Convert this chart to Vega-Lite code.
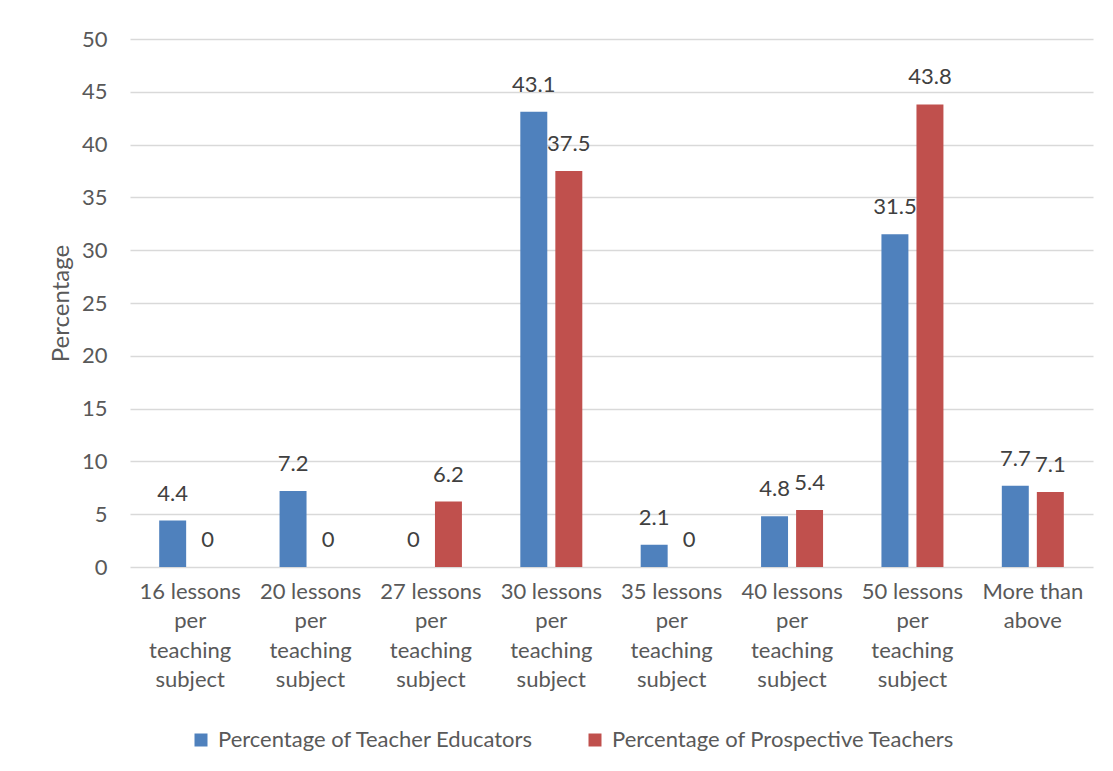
{
  "$schema": "https://vega.github.io/schema/vega-lite/v6.json",
  "width": 963,
  "height": 528,
  "autosize": {"type": "none"},
  "padding": {"left": 130, "top": 39, "right": 20, "bottom": 204},
  "background": "white",
  "config": {"view": {"stroke": null}, "font": "Lato"},
  "data": {
    "values": [
      {"category": "16 lessons|per|teaching|subject", "series": "Percentage of Teacher Educators", "value": 4.4},
      {"category": "16 lessons|per|teaching|subject", "series": "Percentage of Prospective Teachers", "value": 0},
      {"category": "20 lessons|per|teaching|subject", "series": "Percentage of Teacher Educators", "value": 7.2},
      {"category": "20 lessons|per|teaching|subject", "series": "Percentage of Prospective Teachers", "value": 0},
      {"category": "27 lessons|per|teaching|subject", "series": "Percentage of Teacher Educators", "value": 0},
      {"category": "27 lessons|per|teaching|subject", "series": "Percentage of Prospective Teachers", "value": 6.2},
      {"category": "30 lessons|per|teaching|subject", "series": "Percentage of Teacher Educators", "value": 43.1},
      {"category": "30 lessons|per|teaching|subject", "series": "Percentage of Prospective Teachers", "value": 37.5},
      {"category": "35 lessons|per|teaching|subject", "series": "Percentage of Teacher Educators", "value": 2.1},
      {"category": "35 lessons|per|teaching|subject", "series": "Percentage of Prospective Teachers", "value": 0},
      {"category": "40 lessons|per|teaching|subject", "series": "Percentage of Teacher Educators", "value": 4.8},
      {"category": "40 lessons|per|teaching|subject", "series": "Percentage of Prospective Teachers", "value": 5.4},
      {"category": "50 lessons|per|teaching|subject", "series": "Percentage of Teacher Educators", "value": 31.5},
      {"category": "50 lessons|per|teaching|subject", "series": "Percentage of Prospective Teachers", "value": 43.8},
      {"category": "More than|above", "series": "Percentage of Teacher Educators", "value": 7.7},
      {"category": "More than|above", "series": "Percentage of Prospective Teachers", "value": 7.1}
    ]
  },
  "encoding": {
    "x": {
      "field": "category",
      "type": "nominal",
      "sort": null,
      "scale": {"paddingInner": 0.485, "paddingOuter": 0.2425},
      "axis": {
        "title": null,
        "labelExpr": "split(datum.label, '|')",
        "labelAngle": 0,
        "labelFontSize": 22,
        "labelColor": "#595959",
        "labelLineHeight": 29.5,
        "labelPadding": 14,
        "labelBaseline": "top",
        "ticks": false,
        "domain": false
      }
    },
    "xOffset": {
      "field": "series",
      "type": "nominal",
      "sort": ["Percentage of Teacher Educators", "Percentage of Prospective Teachers"],
      "scale": {"paddingInner": 0.23, "paddingOuter": 0}
    },
    "y": {
      "field": "value",
      "type": "quantitative",
      "scale": {"domain": [0, 50]},
      "axis": {
        "values": [0, 5, 10, 15, 20, 25, 30, 35, 40, 45, 50],
        "domain": false,
        "ticks": false,
        "gridColor": "#d9d9d9",
        "gridWidth": 1.5,
        "labelFontSize": 22,
        "labelColor": "#595959",
        "labelPadding": 23,
        "title": "Percentage",
        "titleFontSize": 24,
        "titleFontWeight": "normal",
        "titleColor": "#595959",
        "titlePadding": 8
      }
    }
  },
  "layer": [
    {
      "mark": {"type": "bar"},
      "encoding": {
        "color": {
          "field": "series",
          "type": "nominal",
          "sort": ["Percentage of Teacher Educators", "Percentage of Prospective Teachers"],
          "scale": {"range": ["#4F81BD", "#C0504D"]},
          "legend": {
            "orient": "none",
            "legendX": 60,
            "legendY": 690,
            "direction": "horizontal",
            "title": null,
            "symbolType": "square",
            "symbolSize": 169,
            "symbolStrokeWidth": 0,
            "labelFontSize": 22,
            "labelColor": "#595959",
            "labelOffset": 6,
            "labelLimit": 600,
            "columnPadding": 50
          }
        }
      }
    },
    {
      "mark": {"type": "text", "dy": -27, "fontSize": 22, "color": "#404040", "baseline": "middle"},
      "encoding": {
        "text": {"field": "value", "type": "quantitative", "format": ".1~f"}
      }
    }
  ]
}
